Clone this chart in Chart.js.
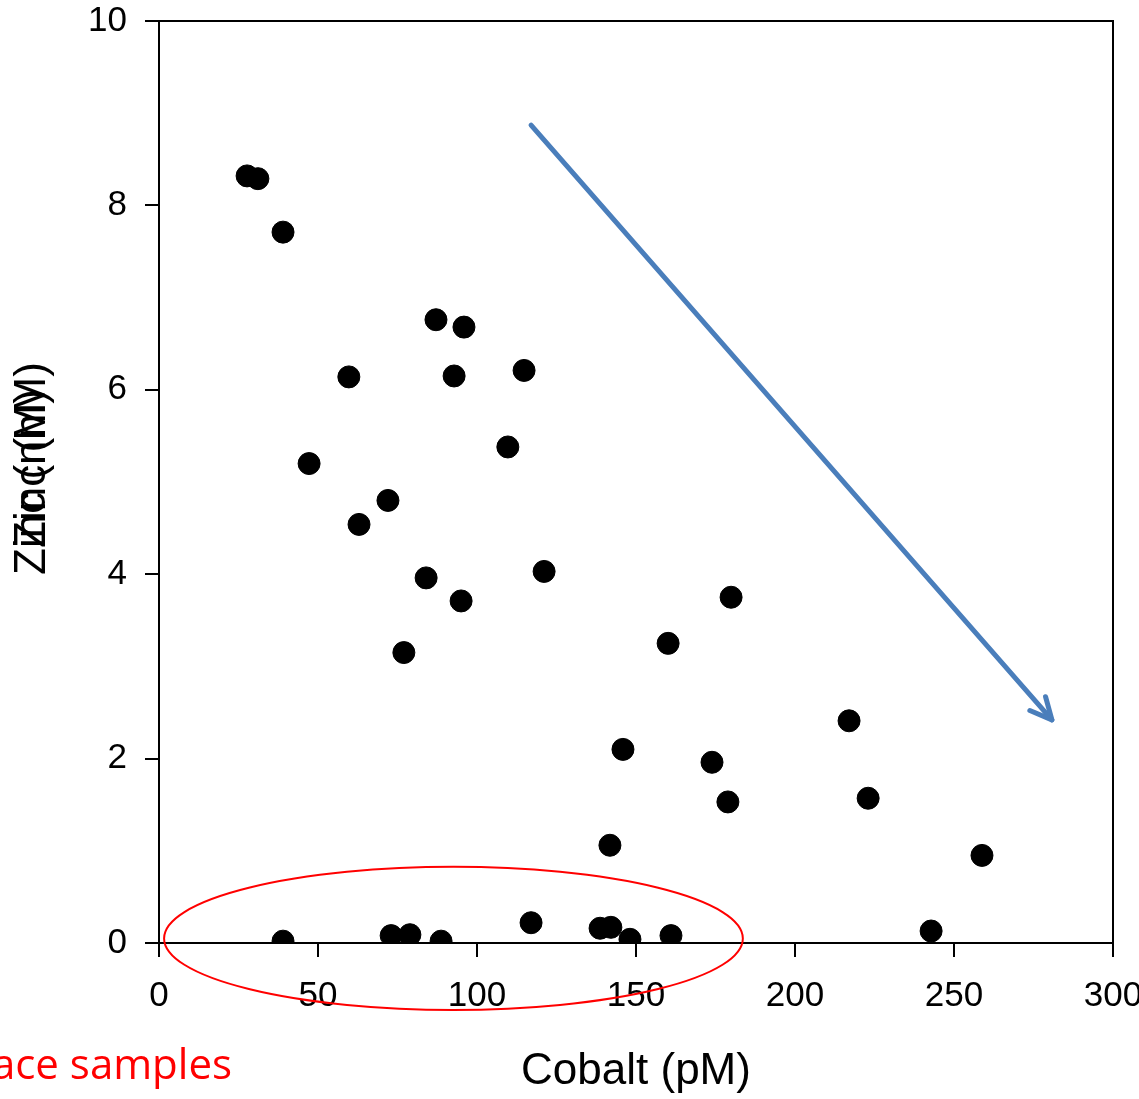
<!DOCTYPE html>
<html>
<head>
<meta charset="utf-8">
<script src="https://cdn.jsdelivr.net/npm/chart.js@4.4.0/dist/chart.umd.min.js"></script>
<style>
html, body { margin: 0; padding: 0; background: #fff; overflow: hidden; }
#wrap { width: 1165px; height: 1099px; position: relative; }
</style>
</head>
<body>
<div id="wrap"><canvas id="myChart"></canvas></div>
<script>
// data
var cobalt = [27.7, 31.1, 39.0, 87.1, 95.9, 59.7, 92.8, 114.8, 47.2, 109.7,
              72.0, 62.9, 84.0, 95.0, 121.1, 77.0, 160.1, 179.9, 145.9, 173.9,
              178.9, 217.0, 223.0, 141.8, 258.8, 242.8, 39.0, 73.0, 78.9, 88.7,
              117.0, 138.7, 142.1, 148.1, 161.0];
var zinc = [8.32, 8.29, 7.71, 6.76, 6.68, 6.14, 6.15, 6.21, 5.20, 5.38,
            4.80, 4.54, 3.96, 3.71, 4.03, 3.15, 3.25, 3.75, 2.10, 1.96,
            1.53, 2.41, 1.57, 1.06, 0.95, 0.13, 0.02, 0.08, 0.09, 0.02,
            0.22, 0.16, 0.17, 0.04, 0.08];
var xTickValues = [0, 50, 100, 150, 200, 250, 300];
var yTickValues = [0, 2, 4, 6, 8, 10];

// annotations, in data units
var arrowStart = [117.0, 8.87];
var arrowEnd = [280.8, 2.42];
var ellipseCenter = [92.6, 0.05];
var ellipseRadius = [91.0, 0.776];

var FONT = '"Liberation Sans", Arial, sans-serif';

var points = [];
for (var i = 0; i < cobalt.length; i++) {
    points.push({x: cobalt[i], y: zinc[i]});
}

var extras = {
    id: 'extras',
    afterDraw: function(chart) {
        var ctx = chart.ctx;
        var a = chart.chartArea;
        var xs = chart.scales.x, ys = chart.scales.y;
        ctx.save();

        // top and right frame
        ctx.strokeStyle = '#000';
        ctx.lineWidth = 2;
        ctx.beginPath();
        ctx.moveTo(a.left, a.top);
        ctx.lineTo(a.right, a.top);
        ctx.lineTo(a.right, a.bottom);
        ctx.stroke();

        // trend arrow
        var x1 = xs.getPixelForValue(arrowStart[0]), y1 = ys.getPixelForValue(arrowStart[1]);
        var x2 = xs.getPixelForValue(arrowEnd[0]), y2 = ys.getPixelForValue(arrowEnd[1]);
        var ang = Math.atan2(y2 - y1, x2 - x1);
        ctx.strokeStyle = 'rgb(74,126,187)';
        ctx.lineWidth = 5;
        ctx.lineCap = 'round';
        ctx.lineJoin = 'round';
        ctx.beginPath();
        ctx.moveTo(x1, y1);
        ctx.lineTo(x2, y2);
        ctx.stroke();
        var head = 24;
        ctx.beginPath();
        ctx.moveTo(x2 - head * Math.cos(ang - 0.45), y2 - head * Math.sin(ang - 0.45));
        ctx.lineTo(x2, y2);
        ctx.lineTo(x2 - head * Math.cos(ang + 0.45), y2 - head * Math.sin(ang + 0.45));
        ctx.stroke();

        // ellipse round the surface samples
        var cx = xs.getPixelForValue(ellipseCenter[0]);
        var cy = ys.getPixelForValue(ellipseCenter[1]);
        var rx = xs.getPixelForValue(ellipseCenter[0] + ellipseRadius[0]) - cx;
        var ry = cy - ys.getPixelForValue(ellipseCenter[1] + ellipseRadius[1]);
        ctx.strokeStyle = '#ff0000';
        ctx.lineWidth = 2;
        ctx.beginPath();
        ctx.ellipse(cx, cy, rx, ry, 0, 0, Math.PI * 2);
        ctx.stroke();

        // second, shifted copy of the y title
        ctx.fillStyle = '#000';
        ctx.font = '44px ' + FONT;
        ctx.textAlign = 'center';
        ctx.textBaseline = 'middle';
        ctx.translate(33, (a.top + a.bottom) / 2 - 27);
        ctx.rotate(-Math.PI / 2);
        ctx.fillText('Zinc (nM)', 0, 0);
        ctx.setTransform(1, 0, 0, 1, 0, 0);

        // label for the circled group
        ctx.fillStyle = '#ff0000';
        ctx.font = '42px "Open Sans", sans-serif';
        ctx.textAlign = 'right';
        ctx.textBaseline = 'alphabetic';
        ctx.fillText('Surface samples', 232, 1079);

        ctx.restore();
    }
};

var ctx = document.getElementById('myChart').getContext('2d');
var chart = new Chart(ctx, {
    type: 'scatter',
    data: {
        datasets: [{
            label: 'Zinc vs Cobalt',
            data: points,
            backgroundColor: '#000',
            borderColor: '#000',
            pointRadius: 11,
            pointHoverRadius: 11,
            showLine: false
        }]
    },
    options: {
        responsive: true,
        maintainAspectRatio: false,
        animation: false,
        layout: {padding: {top: 21, right: 52, left: 0, bottom: 0}},
        plugins: {legend: {display: false}, tooltip: {enabled: false}},
        scales: {
            x: {
                type: 'linear',
                min: 0,
                max: 300,
                afterBuildTicks: function(s) { s.ticks = xTickValues.map(function(v) { return {value: v}; }); },
                afterFit: function(s) { s.height = 156; s.paddingLeft = 0; s.paddingRight = 0; },
                grid: {drawOnChartArea: false, drawTicks: true, tickLength: 14, color: '#000', lineWidth: 2},
                border: {display: true, color: '#000', width: 2},
                ticks: {color: '#000', font: {family: FONT, size: 35}, padding: 18, maxRotation: 0},
                title: {display: true, text: 'Cobalt (pM)', color: '#000',
                        font: {family: FONT, size: 44}, padding: {top: 0, bottom: 1}}
            },
            y: {
                type: 'linear',
                min: 0,
                max: 10,
                afterBuildTicks: function(s) { s.ticks = yTickValues.map(function(v) { return {value: v}; }); },
                afterFit: function(s) { s.width = 159; s.paddingTop = 0; s.paddingBottom = 0; },
                grid: {drawOnChartArea: false, drawTicks: true, tickLength: 14, color: '#000', lineWidth: 2},
                border: {display: true, color: '#000', width: 2},
                ticks: {color: '#000', font: {family: FONT, size: 35}, padding: 18},
                title: {display: true, text: 'Zinc (nM)', color: '#000',
                        font: {family: FONT, size: 44}, padding: {top: 6, bottom: 0}}
            }
        }
    },
    plugins: [extras]
});
</script>
</body>
</html>
